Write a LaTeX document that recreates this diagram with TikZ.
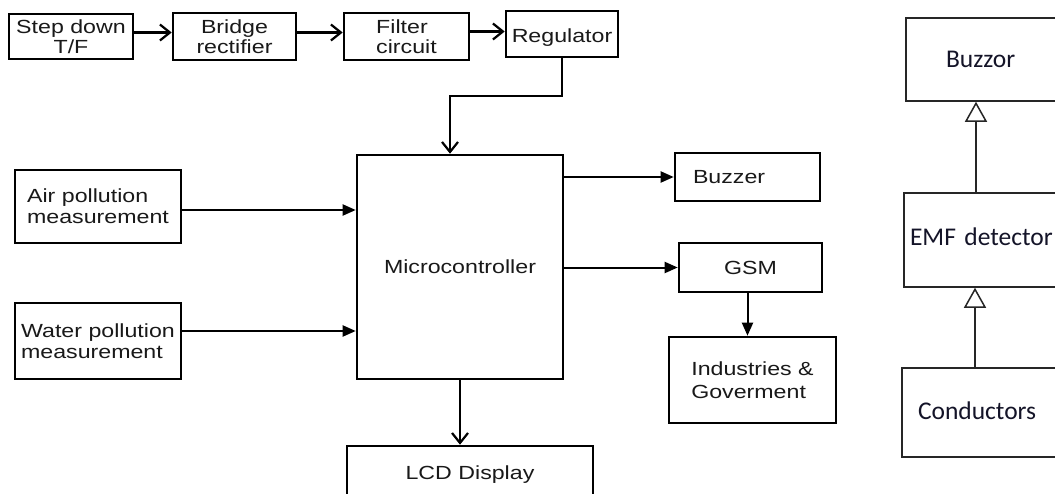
\documentclass[tikz,border=0pt]{standalone}
\usepackage{fontspec}
\usetikzlibrary{arrows.meta}
\newfontfamily\arialx{Liberation Sans}[FakeStretch=1.22]
\newfontfamily\calib{Carlito}
\definecolor{ink}{RGB}{25,25,25}
\definecolor{inkR}{RGB}{20,20,40}
\tikzset{
  lbox/.style={draw=black, line width=2.6pt, inner sep=0pt, text=ink,
    font=\arialx\fontsize{19}{21}\selectfont, align=center},
  rbox/.style={draw=black!85, line width=1.5pt, inner ysep=0pt, text=inkR,
    font=\calib\fontsize{25.5}{28}\selectfont, align=left},
  vee/.style={line width=2.2pt, -{Straight Barb[length=10pt,width=16pt]}},
  tri/.style={line width=2pt, -{Triangle[length=13pt,width=11pt]}},
  otri/.style={line width=1.5pt, draw=black!85, -{Triangle[open,length=20pt,width=22pt,fill=white]}}
}
\begin{document}
\begin{tikzpicture}[x=1pt,y=-1pt]
\useasboundingbox (0,0) rectangle (1055,493);
\clip (0,0) rectangle (1055,493);
\fill[white] (0,0) rectangle (1055,493);
% top power chain
\node[lbox, minimum width=124pt, minimum height=45pt, font=\arialx\fontsize{19}{20}\selectfont] (sd) at (71,36.5) {Step down\\T/F};
\node[lbox, minimum width=123pt, minimum height=47pt, font=\arialx\fontsize{19}{20}\selectfont] (br) at (234.5,36.5) {Bridge\\rectifier};
\node[lbox, minimum width=125pt, minimum height=47pt, align=left, font=\arialx\fontsize{19}{20}\selectfont] (fc) at (406.5,36.5) {Filter\\circuit};
\node[lbox, minimum width=112pt, minimum height=46pt, text height=16pt, text depth=0pt] (reg) at (562,34) {Regulator};
% main
\node[lbox, minimum width=206pt, minimum height=224pt] (micro) at (460,267) {Microcontroller};
\node[lbox, minimum width=166pt, minimum height=73pt, align=left] (air) at (98,206.5) {Air pollution\\measurement};
\node[lbox, minimum width=166pt, minimum height=76pt, align=left] (water) at (98,341) {Water pollution\\measurement};
\node[lbox, minimum height=48pt, text width=109pt, inner xsep=18pt, align=left] (buzzer) at (747.5,177) {Buzzer};
\node[lbox, minimum width=143pt, minimum height=49pt] (gsm) at (750.5,267.5) {GSM};
\node[lbox, minimum width=167pt, minimum height=86pt, align=left, font=\arialx\fontsize{19}{23}\selectfont] (ind) at (752.5,380) {Industries \&\\Goverment};
\node[lbox, minimum width=246pt, minimum height=58pt] (lcd) at (470,475) {LCD Display};
% right diagram
\node[rbox, minimum height=83pt, text width=84pt, inner xsep=40pt] (buzzor) at (988,59.5) {Buzzor};
\node[rbox, minimum height=94pt, text width=154pt, inner xsep=6pt, text height=17pt, text depth=7pt] (emf) at (987,240) {EMF detector};
\node[rbox, minimum height=89pt, text width=136pt, inner xsep=16pt, text height=17pt, text depth=4pt] (cond) at (986,412.5) {Conductors};
% connectors
\draw[vee] ([yshift=4pt]sd.east) -- ([yshift=4pt]sd.east -| br.west);
\draw[vee] ([yshift=4pt]br.east) -- ([yshift=4pt]br.east -| fc.west);
\draw[vee] ([yshift=5pt]fc.east) -- ([yshift=5pt]fc.east -| reg.west);
\draw[vee] (reg.south) -- ++(0,38) -| ([xshift=-10pt]micro.north);
\draw[tri] ([yshift=-3.5pt]air.east) -- ([yshift=-3.5pt]air.east -| micro.west);
\draw[tri] ([yshift=10pt]water.east) -- ([yshift=10pt]water.east -| micro.west);
\draw[tri] (buzzer.west -| micro.east) -- (buzzer.west);
\draw[tri] (gsm.west -| micro.east) -- (gsm.west);
\draw[tri] ([xshift=-3pt]gsm.south) -- ([xshift=-3pt]gsm.south |- ind.north);
\draw[vee] (micro.south) -- (micro.south |- lcd.north);
\draw[otri] ([xshift=-11pt]emf.north) -- ([xshift=-11pt]emf.north |- buzzor.south);
\draw[otri] ([xshift=-11pt]cond.north) -- ([xshift=-11pt]cond.north |- emf.south);
\end{tikzpicture}
\end{document}
